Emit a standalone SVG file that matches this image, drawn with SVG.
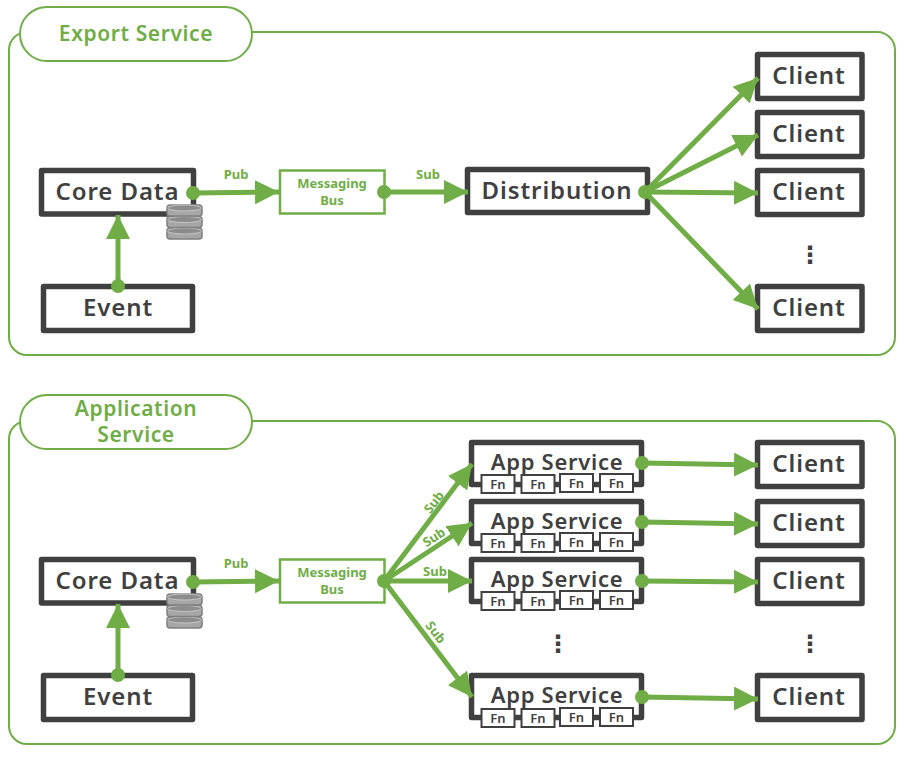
<svg xmlns="http://www.w3.org/2000/svg" width="905" height="758" viewBox="0 0 905 758">
<style>
text{font-family:"Noto Sans","Open Sans","DejaVu Sans",sans-serif;text-anchor:middle}
.panel{fill:#fff;stroke:#70ad47;stroke-width:2}
.tab{fill:#fff;stroke:#70ad47;stroke-width:2}
.tabt{fill:#70ad47;font-size:21px;font-weight:600;letter-spacing:.6px}
.box{fill:#fff;stroke:#404040;stroke-width:5.500;stroke-linejoin:round}
.t{fill:#404040;font-size:24px;font-weight:600;letter-spacing:.9px}
.s{fill:#404040;font-size:22px;font-weight:600;letter-spacing:.7px}
.bus{fill:#fff;stroke:#70ad47;stroke-width:2.500}
.bust{fill:#70ad47;font-size:13px;font-weight:700}
.lab{fill:#70ad47;font-size:13px;font-weight:700}
.fn{fill:#fff;stroke:#404040;stroke-width:2}
.fnt{fill:#404040;font-size:13px;font-weight:600}
.c{fill:none;stroke:#70ad47;stroke-width:5;marker-end:url(#a)}
.d{fill:#70ad47}
.dots{fill:#404040;font-size:24px;font-weight:700}
.db{fill:#a6a6a6;stroke:#7f7f7f;stroke-width:1.500}
</style>
<defs>
<marker id="a" markerUnits="userSpaceOnUse" markerWidth="26" markerHeight="26" refX="24" refY="12" orient="auto"><path d="M0 0L24 12L0 24Z" fill="#70ad47"/></marker>
<g id="cyl"><rect class="db" x="167" y="0" width="35" height="11" rx="3"/><ellipse cx="184.500" cy="3" rx="17" ry="3" fill="#8c8c8c" stroke="#d0d0d0" stroke-width=".8"/></g>
<g id="fns">
<rect class="fn" x="481.500" y="0" width="33" height="18"/><text class="fnt" x="498" y="14">Fn</text>
<rect class="fn" x="521.500" y="0" width="33" height="18"/><text class="fnt" x="538" y="14">Fn</text>
<rect class="fn" x="560" y="-1" width="33" height="18"/><text class="fnt" x="576.500" y="13">Fn</text>
<rect class="fn" x="600" y="-1" width="33" height="18"/><text class="fnt" x="616.500" y="13">Fn</text>
</g>
</defs>

<g id="export-panel"><rect class="panel" x="9" y="32" width="886" height="323" rx="18"/></g>
<g id="export-tab"><rect class="tab" x="20" y="7" width="232" height="54" rx="27"/><text class="tabt" x="136" y="41">Export Service</text></g>
<g id="application-panel"><rect class="panel" x="9" y="421" width="886" height="323" rx="18"/></g>
<g id="application-tab"><rect class="tab" x="20" y="395" width="232" height="54" rx="27"/><text class="tabt" x="136" y="416">Application</text><text class="tabt" x="136" y="442">Service</text></g>

<g id="e-core"><rect class="box" x="41.500" y="170.500" width="152" height="43.500"/><text class="t" x="117.500" y="200">Core Data</text>
<use href="#cyl" y="228"/><use href="#cyl" y="216.500"/><use href="#cyl" y="205"/></g>
<g id="e-event"><rect class="box" x="43.500" y="286.500" width="149" height="44"/><text class="t" x="118" y="316">Event</text></g>
<g id="e-bus"><rect class="bus" x="280" y="170.500" width="104.500" height="43"/><text class="bust" x="332" y="188">Messaging</text><text class="bust" x="332" y="205">Bus</text></g>
<g id="e-dist"><rect class="box" x="467.500" y="169.500" width="180" height="43"/><text class="t" x="557" y="199">Distribution</text></g>
<g id="e-c1"><rect class="box" x="757.500" y="54.500" width="104.500" height="44"/><text class="t" x="809" y="84">Client</text></g>
<g id="e-c2"><rect class="box" x="757.500" y="112.500" width="104.500" height="44"/><text class="t" x="809" y="142">Client</text></g>
<g id="e-c3"><rect class="box" x="757.500" y="170.500" width="104.500" height="44"/><text class="t" x="809" y="200">Client</text></g>
<g id="e-c4"><rect class="box" x="757.500" y="286.500" width="104.500" height="44"/><text class="t" x="809" y="316">Client</text></g>
<text class="dots" x="810" y="256" dominant-baseline="middle">⋮</text>

<g id="a-core"><rect class="box" x="41.500" y="559.500" width="152" height="43.500"/><text class="t" x="117.500" y="589">Core Data</text>
<use href="#cyl" y="617"/><use href="#cyl" y="605.500"/><use href="#cyl" y="594"/></g>
<g id="a-event"><rect class="box" x="43.500" y="675.500" width="149" height="44"/><text class="t" x="118" y="705">Event</text></g>
<g id="a-bus"><rect class="bus" x="280" y="559.500" width="104.500" height="43"/><text class="bust" x="332" y="577">Messaging</text><text class="bust" x="332" y="594">Bus</text></g>
<g id="a-s1"><rect class="box" x="471.500" y="442.500" width="170" height="42"/><text class="s" x="557" y="470">App Service</text><use href="#fns" y="475"/></g>
<g id="a-s2"><rect class="box" x="471.500" y="501.500" width="170" height="42"/><text class="s" x="557" y="529">App Service</text><use href="#fns" y="534"/></g>
<g id="a-s3"><rect class="box" x="471.500" y="559.500" width="170" height="42"/><text class="s" x="557" y="587">App Service</text><use href="#fns" y="592"/></g>
<g id="a-s4"><rect class="box" x="471.500" y="675.500" width="170" height="42"/><text class="s" x="557" y="703">App Service</text><use href="#fns" y="709"/></g>
<g id="a-c1"><rect class="box" x="757.500" y="442.500" width="104.500" height="44"/><text class="t" x="809" y="472">Client</text></g>
<g id="a-c2"><rect class="box" x="757.500" y="501.500" width="104.500" height="44"/><text class="t" x="809" y="531">Client</text></g>
<g id="a-c3"><rect class="box" x="757.500" y="559.500" width="104.500" height="44"/><text class="t" x="809" y="589">Client</text></g>
<g id="a-c4"><rect class="box" x="757.500" y="675.500" width="104.500" height="44"/><text class="t" x="809" y="705">Client</text></g>
<text class="dots" x="558" y="645" dominant-baseline="middle">⋮</text>
<text class="dots" x="810" y="645" dominant-baseline="middle">⋮</text>

<g id="connectors">
<path class="c" d="M193 193L279 192"/><circle class="d" cx="193" cy="193" r="7"/>
<path class="c" d="M118 286L118 215"/><circle class="d" cx="118" cy="286" r="7"/>
<path class="c" d="M384 192L468 192"/><circle class="d" cx="384" cy="192" r="7"/>
<path class="c" d="M645 192L758 78"/><path class="c" d="M645 192L758 135"/><path class="c" d="M645 192L758 193"/><path class="c" d="M645 192L758 309"/><circle class="d" cx="645" cy="192" r="7"/>
<text class="lab" x="236" y="179">Pub</text><text class="lab" x="428" y="179">Sub</text>

<path class="c" d="M193 582L279 581"/><circle class="d" cx="193" cy="582" r="7"/>
<path class="c" d="M118 675L118 604"/><circle class="d" cx="118" cy="675" r="7"/>
<path class="c" d="M384 581L472 464"/><path class="c" d="M384 581L472 523"/><path class="c" d="M384 581L472 581"/><path class="c" d="M384 581L472 697"/><circle class="d" cx="384" cy="581" r="7"/>
<text class="lab" x="236" y="568">Pub</text>
<text class="lab" transform="translate(437.500 505) rotate(-52)">Sub</text>
<text class="lab" transform="translate(436.500 541) rotate(-33)">Sub</text>
<text class="lab" x="435" y="576">Sub</text>
<text class="lab" transform="translate(432 635) rotate(53)">Sub</text>
<path class="c" d="M642 463L758 465"/><circle class="d" cx="642" cy="463" r="7"/>
<path class="c" d="M642 522L758 524"/><circle class="d" cx="642" cy="522" r="7"/>
<path class="c" d="M642 581L758 582"/><circle class="d" cx="642" cy="581" r="7"/>
<path class="c" d="M642 697L758 699"/><circle class="d" cx="642" cy="697" r="7"/>
</g>
</svg>
